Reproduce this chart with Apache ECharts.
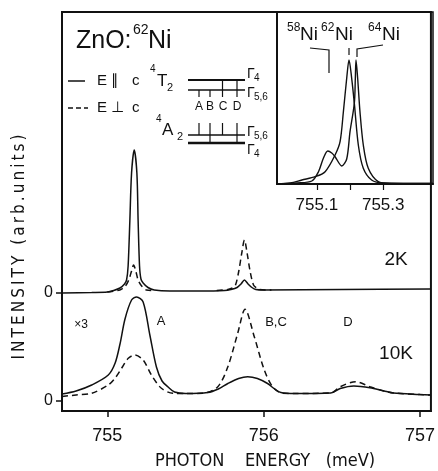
<!DOCTYPE html>
<html>
<head>
<meta charset="utf-8">
<script src="https://cdn.jsdelivr.net/npm/echarts@6/dist/echarts.min.js"></script>
<style>
  html, body { margin: 0; padding: 0; background: #fff; }
  #chart { width: 438px; height: 471px; }
</style>
</head>
<body>
<div id="chart"></div>
<script>
// photon energy (meV) / intensity; 2K trace sits on an offset baseline (~108)
var twoKSolid = [[754.71,108],[754.9,108.5],[755.0,109],[755.04,110.5],[755.081,113],[755.11,117],[755.123,121],
  [755.133,135],[755.144,180],[755.155,228],[755.172,251],[755.189,228],[755.197,180],[755.206,135],[755.215,122],
  [755.229,118],[755.26,113.5],[755.30,111],[755.40,110],[755.60,110],[755.75,110.5],[755.79,111.5],[755.83,113.5],
  [755.855,117],[755.877,121],[755.90,117],[755.925,113.5],[755.95,111.5],[756.0,111],[756.5,111.5],[757.07,112]];
var twoKDashedA = [[755.0,109],[755.08,111],[755.115,115],[755.137,121],[755.155,130],[755.168,136],[755.182,130],
  [755.197,121],[755.22,115],[755.25,111],[755.30,110.5]];
var twoKDashedBC = [[755.70,110.5],[755.771,111.5],[755.80,113],[755.82,116],[755.841,130],[755.86,148],[755.877,161],
  [755.894,148],[755.913,130],[755.935,116],[755.955,113],[755.973,111.5],[756.05,111]];
var tenKSolid = [[754.71,7],[754.80,10],[754.90,16],[755.006,26],[755.05,38],[755.081,57],[755.113,82],[755.155,101],
  [755.187,104],[755.229,99],[755.272,66],[755.314,34],[755.35,20],[755.389,14],[755.43,9],[755.50,7.5],[755.643,8.5],
  [755.71,12],[755.771,17.5],[755.84,22.5],[755.898,24.3],[755.96,22.5],[756.025,17.5],[756.07,12],[756.11,8.5],
  [756.2,7.5],[756.429,8],[756.49,12.5],[756.577,15],[756.68,13.3],[756.77,10],[756.83,8],[757.0,6.5],[757.07,6]];
var tenKDashed = [[754.71,4.5],[754.80,6],[754.90,7.7],[755.006,16],[755.05,23],[755.091,32.7],[755.134,42.7],
  [755.176,46],[755.229,41],[755.282,26],[755.346,12.7],[755.42,7.7],[755.5,7.5],[755.611,7.7],[755.707,14.3],
  [755.771,34.3],[755.834,67.7],[755.881,91.7],[755.94,64.3],[756.004,31],[756.057,14.3],[756.121,7.7],[756.2,7.5],
  [756.43,8],[756.49,14.3],[756.588,19.3],[756.68,14.3],[756.77,10],[756.83,8],[757.0,6.5],[757.07,6]];
// inset: A line at high resolution
var insetCurve1 = [[754.98,0],[755.02,1],[755.055,4],[755.095,7.3],[755.125,12.3],[755.155,29],[755.17,42.3],
  [755.18,72.3],[755.19,105.7],[755.197,124],[755.205,105.7],[755.213,80.7],[755.225,39],[755.24,15.7],
  [755.265,4],[755.3,1],[755.45,0.5]];
var insetCurve2 = [[754.98,0],[755.04,1],[755.085,3],[755.105,12.3],[755.12,26],[755.133,33],[755.145,31],
  [755.155,27.3],[755.175,18],[755.19,25],[755.2,52.3],[755.213,80.7],[755.216,105.7],[755.218,124],
  [755.223,105.7],[755.23,72.3],[755.24,39],[755.255,15.7],[755.285,2.3],[755.32,0.5],[755.45,0.5]];

var xTicks = [755, 756, 757];
var zeroTicks = [0, 108];
var insetTicks = [755.1, 755.2, 755.3];
var insetLabels = [755.1, 755.3];

var FONT = "'Liberation Sans', 'DejaVu Sans', sans-serif";
var NARROW = "'Liberation Sans Narrow', 'DejaVu Sans Condensed', 'Liberation Sans', sans-serif";
var INK = '#111';

function txt(x, y, s, size, align, fam) {
  return {
    type: 'text', x: x, y: y,
    style: { text: s, font: size + 'px ' + (fam || FONT), fill: INK,
      align: align || 'left', textAlign: align || 'left', verticalAlign: 'middle', textVerticalAlign: 'middle' }
  };
}
function seg(x1, y1, x2, y2, w, dash) {
  return { type: 'line', shape: { x1: x1, y1: y1, x2: x2, y2: y2 },
    style: { stroke: INK, lineWidth: w || 1.5, lineDash: dash || null } };
}
function poly(pts, w) {
  return { type: 'polyline', shape: { points: pts }, style: { stroke: INK, lineWidth: w || 1.2, fill: null } };
}

function line(data, dashed, xi, yi, w) {
  return {
    type: 'line', data: data, xAxisIndex: xi || 0, yAxisIndex: yi || 0,
    showSymbol: false, smooth: 0.3, animation: false, silent: true,
    z: dashed ? 2 : 3,
    lineStyle: { color: INK, width: w || 1.5, type: dashed ? [6, 4] : 'solid' }
  };
}

var myChart = echarts.init(document.getElementById('chart'), null, { renderer: 'canvas' });

var graphics = [
  // title
  txt(76, 41, 'ZnO:', 25), txt(133, 30, '62', 14), txt(148, 41, 'Ni', 25),
  // legend
  seg(68, 81, 85, 81, 1.5), txt(97, 81, 'E', 15), txt(111, 81, '\u2225', 15), txt(132, 81, 'c', 15),
  seg(68, 108, 88, 108, 1.5, [5, 3]), txt(97, 108, 'E', 15), txt(111, 108, '\u22A5', 15), txt(132, 108, 'c', 15),
  // level scheme
  txt(150, 69, '4', 10), txt(157, 81, 'T', 17), txt(167, 88, '2', 11),
  txt(156, 119, '4', 10), txt(162, 130, 'A', 17), txt(177, 137, '2', 11),
  seg(188, 80, 245, 80, 2), seg(188, 90, 245, 90, 1.5),
  seg(188, 135, 245, 135, 1.5), seg(188, 143, 245, 143, 2.5),
  seg(199, 90, 199, 97, 1.2), seg(210, 90, 210, 97, 1.2), seg(222.5, 80, 222.5, 97, 1.2), seg(237, 80, 237, 97, 1.2),
  seg(199, 123, 199, 135, 1.2), seg(210, 123, 210, 143, 1.2), seg(222.5, 123, 222.5, 135, 1.2), seg(237, 123, 237, 143, 1.2),
  txt(199, 107, 'A', 12, 'center'), txt(210, 107, 'B', 12, 'center'), txt(223, 107, 'C', 12, 'center'), txt(237, 107, 'D', 12, 'center'),
  txt(247, 74, '\u0393', 14), txt(254, 78, '4', 10),
  txt(247, 93, '\u0393', 14), txt(254, 97, '5,6', 10),
  txt(247, 132, '\u0393', 14), txt(254, 136, '5,6', 10),
  txt(247, 150, '\u0393', 14), txt(254, 154, '4', 10),
  // inset isotope labels
  txt(287, 28, '58', 12), txt(300, 35, 'Ni', 19),
  txt(321, 28, '62', 12), txt(335, 35, 'Ni', 19),
  txt(368, 28, '64', 12), txt(382, 35, 'Ni', 19),
  poly([[310, 48], [329, 50], [329, 73]]), seg(349, 48, 349, 55, 1.2), poly([[383, 45], [357, 49], [357, 57]]),
  // spectrum annotations
  txt(396, 260, '2K', 19, 'center'), txt(396, 354, '10K', 19, 'center'),
  txt(81, 325, '\u00D73', 12, 'center'), txt(161, 321, 'A', 13, 'center'),
  txt(276, 322, 'B,C', 13, 'center'), txt(348, 322, 'D', 13, 'center'),
  // axis names
  txt(265, 461, 'PHOTON    ENERGY   (meV)', 18, 'center', NARROW),
  { type: 'text', x: 20, y: 247, rotation: Math.PI / 2,
    style: { text: 'I\u2009N\u2009T\u2009E\u2009N\u2009S\u2009I\u2009T\u2009Y\u2009 \u2009(\u2009a\u2009r\u2009b\u2009.\u2009u\u2009n\u2009i\u2009t\u2009s\u2009)',
      font: '17px ' + NARROW, fill: INK, align: 'center', textAlign: 'center', verticalAlign: 'middle', textVerticalAlign: 'middle' } }
];

var option = {
  backgroundColor: '#fff',
  animation: false,
  grid: [
    { left: 62, top: 12, width: 371, height: 399, show: true, borderColor: INK, borderWidth: 2 },
    { left: 277, top: 12, width: 156, height: 172, show: true, borderColor: INK, borderWidth: 1.5 }
  ],
  xAxis: [
    { gridIndex: 0, type: 'value', min: 754.71, max: 757.07,
      axisLine: { onZero: false, lineStyle: { color: INK, width: 2 } },
      axisTick: { customValues: xTicks, length: 6, lineStyle: { color: INK, width: 1.5 } },
      axisLabel: { customValues: xTicks, formatter: function (v) { return String(v); },
        fontSize: 18, fontFamily: FONT, color: INK, margin: 16 },
      splitLine: { show: false } },
    { gridIndex: 1, type: 'value', min: 754.98, max: 755.45,
      axisLine: { onZero: false, lineStyle: { color: INK, width: 2 } },
      axisTick: { customValues: insetTicks, length: 6, lineStyle: { color: INK, width: 1.2 } },
      axisLabel: { customValues: insetLabels, formatter: function (v) { return v.toFixed(1); },
        fontSize: 17, fontFamily: FONT, color: INK, margin: 13 },
      splitLine: { show: false } }
  ],
  yAxis: [
    { gridIndex: 0, type: 'value', min: -10, max: 389,
      axisLine: { show: true, onZero: false, lineStyle: { color: INK, width: 2 } },
      axisTick: { show: true, customValues: zeroTicks, length: 6, lineStyle: { color: INK, width: 1.5 } },
      axisLabel: { customValues: zeroTicks, formatter: function () { return '0'; },
        fontSize: 16, fontFamily: FONT, color: INK, margin: 9 },
      splitLine: { show: false } },
    { gridIndex: 1, type: 'value', min: 0, max: 172,
      axisLine: { show: true, onZero: false, lineStyle: { color: INK, width: 2 } },
      axisTick: { show: false }, axisLabel: { show: false }, splitLine: { show: false } }
  ],
  graphic: graphics,
  series: [
    line(twoKDashedA, true), line(twoKDashedBC, true), line(twoKSolid, false),
    line(tenKDashed, true), line(tenKSolid, false),
    line(insetCurve1, false, 1, 1, 1.4), line(insetCurve2, false, 1, 1, 1.4)
  ]
};

myChart.setOption(option);
window.onresize = myChart.resize;
</script>
</body>
</html>
